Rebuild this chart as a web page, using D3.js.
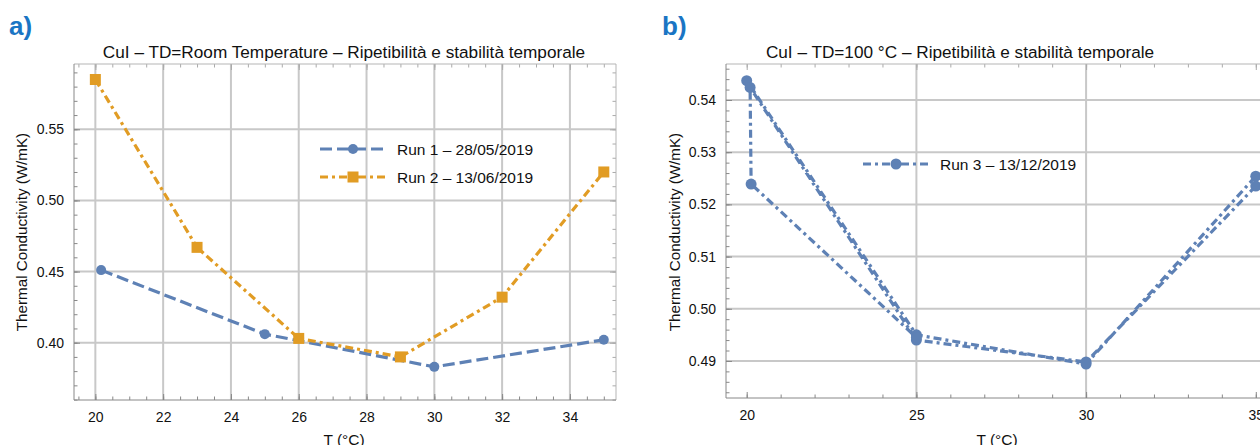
<!DOCTYPE html>
<html lang="en">
<head>
<meta charset="utf-8" />
<title>CuI - ripetibilita</title>
<script src="https://cdn.jsdelivr.net/npm/d3@7"></script>
<style>
	body{margin:0;background:#fff;}
	text{font-family:"Liberation Sans",Arial,sans-serif;fill:#111;}
</style>
</head>
<body>
<script>
// dati
var run1T = [20.17, 25, 30, 35];
var run1K = [0.451, 0.406, 0.383, 0.402];
var run2T = [20, 23, 26, 29, 32, 35];
var run2K = [0.585, 0.467, 0.403, 0.390, 0.432, 0.520];
var run3T = [20.0, 25.0, 30.0, 35.0, 35.0, 30.0, 25.0, 20.1, 20.13, 25.0];
var run3K = [0.5437, 0.4950, 0.4894, 0.5254, 0.5235, 0.4898, 0.4940, 0.5424, 0.5239, 0.4945];

var xTicksA = [20, 22, 24, 26, 28, 30, 32, 34];
var yTicksA = [0.40, 0.45, 0.50, 0.55];
var xTicksB = [20, 25, 30, 35];
var yTicksB = [0.49, 0.50, 0.51, 0.52, 0.53, 0.54];
var xGridB = [25, 30];

var legendA = ['Run 1 – 28/05/2019', 'Run 2 – 13/06/2019'];
var legendB = ['Run 3 – 13/12/2019'];
var titleA = 'CuI – TD=Room Temperature – Ripetibilità e stabilità temporale';
var titleB = 'CuI – TD=100 °C – Ripetibilità e stabilità temporale';

var blue = '#5e81b5', orange = '#e19c24';
var dashed = '12,5', dotdash = '8,4,3,4';

var svg = d3.select('body').append('svg')
	.attr('width', 1260)
	.attr('height', 445);

function zip(a, b) { return a.map(function(d, i) { return [d, b[i]]; }); }

function panel(o) {
	var x = d3.scaleLinear().domain(o.xDom).range([o.left, o.right]);
	var y = d3.scaleLinear().domain(o.yDom).range([o.bottom, o.top]);
	var g = svg.append('g');

	// griglia
	g.selectAll('.gx').data(o.xGrid).enter().append('line')
		.attr('x1', x).attr('x2', x).attr('y1', o.top).attr('y2', o.bottom)
		.attr('stroke', '#c8c8c8').attr('stroke-width', 2);
	g.selectAll('.gy').data(o.yTicks).enter().append('line')
		.attr('x1', o.left).attr('x2', Math.min(o.right, 1260)).attr('y1', y).attr('y2', y)
		.attr('stroke', '#c8c8c8').attr('stroke-width', 2);

	// assi (tacche verso l'interno)
	function ax(gen, pos, vals, len, labels, col) {
		var a = gen.tickValues(vals).tickSizeInner(-len).tickSizeOuter(0)
			.tickPadding(len + 6);
		if (!labels) a.tickFormat('');
		else a.tickFormat(labels);
		var s = g.append('g').attr('transform', pos).call(a);
		s.select('.domain').remove();
		s.selectAll('line').attr('stroke', col);
		s.selectAll('text').style('font-size', '14px').attr('fill', '#111')
			.style('font-family', '"Liberation Sans",Arial,sans-serif');
		return s;
	}
	var fx = d3.format('d'), fy = d3.format('.2f');
	ax(d3.axisBottom(x), 'translate(0,' + o.bottom + ')', o.xTicks, 6, fx, '#888');
	ax(d3.axisBottom(x), 'translate(0,' + o.bottom + ')', o.xMinor, 3.5, null, '#888');
	ax(d3.axisTop(x), 'translate(0,' + o.top + ')', o.xTicks, 6, null, '#aaa');
	ax(d3.axisTop(x), 'translate(0,' + o.top + ')', o.xMinor, 3.5, null, '#aaa');
	ax(d3.axisLeft(y), 'translate(' + o.left + ',0)', o.yTicks, 6, fy, '#888')
		.selectAll('text').attr('dx', 2);
	ax(d3.axisLeft(y), 'translate(' + o.left + ',0)', o.yMinor, 3.5, null, '#888');
	ax(d3.axisRight(y), 'translate(' + o.right + ',0)', o.yTicks, 6, null, '#aaa');
	ax(d3.axisRight(y), 'translate(' + o.right + ',0)', o.yMinor, 3.5, null, '#aaa');

	// cornice
	g.append('line').attr('x1', o.left).attr('x2', o.right).attr('y1', o.top).attr('y2', o.top)
		.attr('stroke', '#b5b5b5');
	g.append('line').attr('x1', o.right).attr('x2', o.right).attr('y1', o.top).attr('y2', o.bottom)
		.attr('stroke', '#b5b5b5');
	g.append('line').attr('x1', o.left).attr('x2', o.right).attr('y1', o.bottom).attr('y2', o.bottom)
		.attr('stroke', '#888');
	g.append('line').attr('x1', o.left).attr('x2', o.left).attr('y1', o.top).attr('y2', o.bottom)
		.attr('stroke', '#888');

	// serie
	var line = d3.line().x(function(d) { return x(d[0]); }).y(function(d) { return y(d[1]); });
	o.series.forEach(function(s) {
		var pts = zip(s.t, s.k);
		g.append('path').datum(pts).attr('d', line)
			.attr('fill', 'none').attr('stroke', s.color).attr('stroke-width', 3.2)
			.attr('stroke-dasharray', s.dash);
		drawMarks(g, pts.map(function(p) { return [x(p[0]), y(p[1])]; }), s);
	});

	// legenda
	o.series.forEach(function(s, i) {
		var ly = o.legY + i * 28;
		g.append('line').attr('x1', o.legX).attr('x2', o.legX + 65).attr('y1', ly).attr('y2', ly)
			.attr('stroke', s.color).attr('stroke-width', 3.2).attr('stroke-dasharray', s.dash);
		drawMarks(g, [[o.legX + 33, ly]], s);
		g.append('text').attr('x', o.legX + 77).attr('y', ly + 5.5)
			.style('font-size', '15.5px').text(s.name);
	});

	// titoli
	svg.append('text').attr('x', o.titleX).attr('y', 58).attr('text-anchor', 'middle')
		.style('font-size', '17.2px').text(o.title);
	svg.append('text').attr('x', o.xLabX).attr('y', 445).attr('text-anchor', 'middle')
		.style('font-size', '15.5px').text('T (°C)');
	svg.append('text').attr('transform', 'translate(' + o.yLabX + ',' + o.yLabY + ') rotate(-90)')
		.attr('text-anchor', 'middle').style('font-size', '15.2px')
		.text('Thermal Conductivity (W/mK)');
	svg.append('text').attr('x', o.tagX).attr('y', o.tagY)
		.style('font-size', '26px').style('font-weight', 'bold').style('fill', '#1a75c4')
		.text(o.tag);
}

function drawMarks(g, pts, s) {
	if (s.shape === 'square') {
		g.selectAll(null).data(pts).enter().append('rect')
			.attr('x', function(d) { return d[0] - 5.5; }).attr('y', function(d) { return d[1] - 5.5; })
			.attr('width', 11).attr('height', 11).attr('fill', s.color);
	} else {
		g.selectAll(null).data(pts).enter().append('circle')
			.attr('cx', function(d) { return d[0]; }).attr('cy', function(d) { return d[1]; })
			.attr('r', s.r || 5).attr('fill', s.color);
	}
}

panel({
	id: 'A', left: 74, right: 616, top: 64, bottom: 400,
	xDom: [19.37, 35.36], yDom: [0.3597, 0.5959],
	xTicks: xTicksA, xMinor: d3.range(19.5, 35.3, 0.5), xGrid: xTicksA,
	yTicks: yTicksA, yMinor: d3.range(0.36, 0.596, 0.01),
	series: [
		{ name: legendA[0], t: run1T, k: run1K, color: blue, dash: dashed, shape: 'circle', r: 5 },
		{ name: legendA[1], t: run2T, k: run2K, color: orange, dash: dotdash, shape: 'square' }
	],
	legX: 320, legY: 149,
	title: titleA, titleX: 344, xLabX: 344, yLabX: 27, yLabY: 232,
	tag: 'a)', tagX: 9, tagY: 35
});

panel({
	id: 'B', left: 726, right: 1268, top: 64, bottom: 398,
	xDom: [19.39, 35.36], yDom: [0.4829, 0.5469],
	xTicks: xTicksB, xMinor: d3.range(20, 36, 1), xGrid: xGridB,
	yTicks: yTicksB, yMinor: d3.range(0.484, 0.547, 0.002),
	series: [
		{ name: legendB[0], t: run3T, k: run3K, color: blue, dash: dotdash, shape: 'circle', r: 5.5 }
	],
	legX: 863, legY: 164,
	title: titleB, titleX: 960, xLabX: 997, yLabX: 680, yLabY: 232,
	tag: 'b)', tagX: 662, tagY: 35
});
</script>
</body>
</html>
